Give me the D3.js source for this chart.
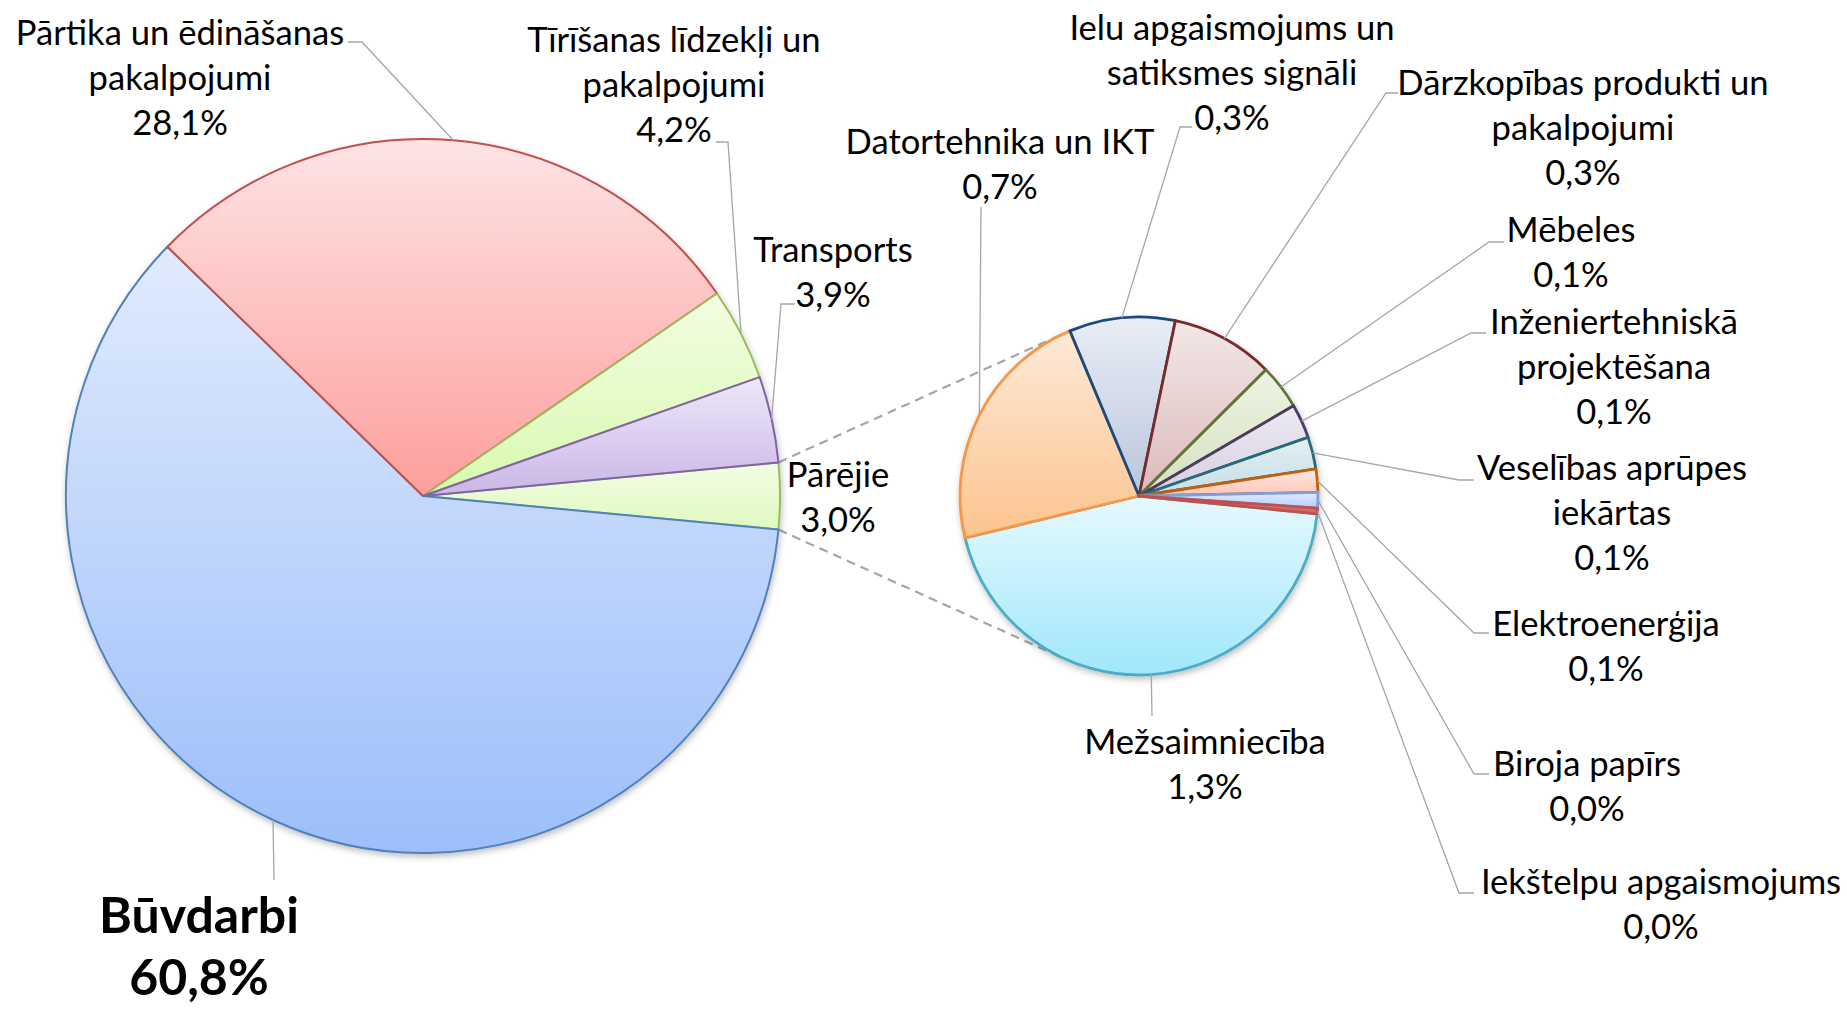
<!DOCTYPE html>
<html>
<head>
<meta charset="utf-8">
<script src="https://cdn.jsdelivr.net/npm/d3@7/dist/d3.min.js"></script>
<style>
  body { margin: 0; background: #fff; }
  text { font-family: Lato, "Open Sans", sans-serif; fill: #000; }
</style>
</head>
<body>
<svg id="chart"></svg>
<script>
// main pie: the "other" slice is built from the small pie
const mainCategories = ["Būvdarbi", "Pārtika un ēdināšanas pakalpojumi", "Tīrīšanas līdzekļi un pakalpojumi", "Transports"];
const mainValues = [60.8, 28.1, 4.2, 3.9];
const otherName = "Pārējie";

// small pie (breakdown of "Pārējie")
const otherCategories = ["Mežsaimniecība", "Datortehnika un IKT", "Ielu apgaismojums un satiksmes signāli",
  "Dārzkopības produkti un pakalpojumi", "Mēbeles", "Inženiertehniskā projektēšana",
  "Veselības aprūpes iekārtas", "Elektroenerģija", "Biroja papīrs", "Iekštelpu apgaismojums"];
const otherValues = [1.34, 0.674, 0.287, 0.279, 0.121, 0.093, 0.087, 0.063, 0.042, 0.015];

var width = 1847, height = 1010;
var fs = 34.6, lh = 45;

var svg = d3.select('#chart')
  .attr('width', width)
  .attr('height', height);

var defs = svg.append('defs');
defs.append('filter').attr('id', 'shadow')
  .attr('x', '-10%').attr('y', '-10%').attr('width', '130%').attr('height', '130%')
  .append('feDropShadow')
  .attr('dx', 1).attr('dy', 3).attr('stdDeviation', 3)
  .attr('flood-color', '#000').attr('flood-opacity', 0.25);

// stroke, gradient top, gradient bottom
var mainStyle = {
  "Pārējie": ['#9bbb59', '#f3fde4', '#dffac0'],
  "Būvdarbi": ['#4f81bd', '#e1ebfd', '#9cbefa'],
  "Pārtika un ēdināšanas pakalpojumi": ['#c0504d', '#fde4e4', '#fd9f9d'],
  "Tīrīšanas līdzekļi un pakalpojumi": ['#9bbb59', '#f3fde2', '#d8f9b0'],
  "Transports": ['#8064a2', '#eee8f8', '#c9b6e6']
};
var otherStyle = [
  ['#4bacc6', '#e6f9fe', '#a0e7fc'],
  ['#f79646', '#fee9d8', '#fcc48e'],
  ['#1f497d', '#e9edf5', '#bac6dd'],
  ['#772c2a', '#f3e7e7', '#dbbaba'],
  ['#5f7530', '#eef3e4', '#d4e1c0'],
  ['#4d3b62', '#eeebf2', '#d5cee1'],
  ['#276a7c', '#e4f0f3', '#c4dee5'],
  ['#c0600a', '#ffe8e2', '#ffc6b8'],
  ['#7ba0d8', '#e0ebff', '#b6cefc'],
  ['#c0504d', '#d07c7a', '#c86a68']
];

// label positions (centre x, first line y), word count of first line, leader start points
var labelLayout = {
  "Būvdarbi": {x: 199, y: 915, bold: true, leader: [[274, 880]]},
  "Pārtika un ēdināšanas pakalpojumi": {x: 180, y: 33, wrap: 3, leader: [[348, 42], [362, 42]]},
  "Tīrīšanas līdzekļi un pakalpojumi": {x: 674, y: 40, wrap: 3, leader: [[716, 142], [728, 142]]},
  "Transports": {x: 833, y: 250, leader: [[795, 304], [781, 304]]},
  "Pārējie": {x: 838, y: 475},
  "Mežsaimniecība": {x: 1205, y: 742, leader: [[1152, 716]]},
  "Datortehnika un IKT": {x: 1000, y: 142, leader: [[981, 207]]},
  "Ielu apgaismojums un satiksmes signāli": {x: 1232, y: 28, wrap: 3, leader: [[1192, 127], [1180, 127]]},
  "Dārzkopības produkti un pakalpojumi": {x: 1583, y: 83, wrap: 3, leader: [[1398, 93], [1386, 93]]},
  "Mēbeles": {x: 1571, y: 230, leader: [[1504, 242], [1489, 242]]},
  "Inženiertehniskā projektēšana": {x: 1614, y: 322, wrap: 1, leader: [[1486, 333], [1471, 333]]},
  "Veselības aprūpes iekārtas": {x: 1612, y: 468, wrap: 2, leader: [[1474, 480], [1459, 480]]},
  "Elektroenerģija": {x: 1606, y: 624, leader: [[1489, 633], [1474, 633]]},
  "Biroja papīrs": {x: 1587, y: 764, leader: [[1489, 774], [1474, 774]]},
  "Iekštelpu apgaismojums": {x: 1661, y: 882, leader: [[1474, 893], [1459, 893]]}
};

var pct = v => d3.format('.1f')(v).replace('.', ',') + '%';

var otherTotal = d3.sum(otherValues);
var mainData = [{name: otherName, value: otherTotal}]
  .concat(mainCategories.map((c, i) => ({name: c, value: mainValues[i]})));
var otherData = otherCategories.map((c, i) => ({name: c, value: otherValues[i]}));

var main = {cx: 423, cy: 496, r: 357};
var small = {cx: 1139, cy: 496, r: 179};

// "other" slice centred on 3 o'clock
var mainStart = Math.PI / 2 - otherTotal / d3.sum(mainData, d => d.value) * Math.PI;
var mainPie = d3.pie().sort(null).value(d => d.value)
  .startAngle(mainStart).endAngle(mainStart + 2 * Math.PI);
var smallStart = 95.7 * Math.PI / 180;
var smallPie = d3.pie().sort(null).value(d => d.value)
  .startAngle(smallStart).endAngle(smallStart + 2 * Math.PI);

var mainArcs = mainPie(mainData);
var smallArcs = smallPie(otherData);

function onArc(p, a, rr) {
  return [p.cx + (rr || p.r) * Math.sin(a), p.cy - (rr || p.r) * Math.cos(a)];
}

// dashed connectors, tangent to the small pie
var oth = mainArcs[0];
var corners = [onArc(main, oth.startAngle), onArc(main, oth.endAngle)];
var connectors = svg.append('g');
corners.forEach(function(P, k) {
  var dx = P[0] - small.cx, dy = P[1] - small.cy;
  var d = Math.sqrt(dx * dx + dy * dy);
  var phi = Math.atan2(dy, dx), al = Math.acos(small.r / d);
  var t = [phi + al, phi - al].map(a => [small.cx + small.r * Math.cos(a), small.cy + small.r * Math.sin(a)]);
  t.sort((a, b) => a[1] - b[1]);
  var T = k === 0 ? t[0] : t[1];
  connectors.append('line')
    .attr('x1', P[0]).attr('y1', P[1]).attr('x2', T[0]).attr('y2', T[1])
    .attr('stroke', '#a6a6a6').attr('stroke-width', 2.2)
    .attr('stroke-dasharray', '9,6');
});

function drawPie(p, arcs, styleOf, sw, key) {
  var arc = d3.arc().innerRadius(0).outerRadius(p.r);
  arcs.forEach(function(d, i) {
    var st = styleOf(d, i);
    var g = defs.append('linearGradient').attr('id', key + i)
      .attr('x1', 0).attr('y1', 0).attr('x2', 0).attr('y2', 1);
    g.append('stop').attr('offset', 0).attr('stop-color', st[1]);
    g.append('stop').attr('offset', 1).attr('stop-color', st[2]);
  });
  svg.append('g')
    .attr('transform', `translate(${p.cx},${p.cy})`)
    .attr('filter', 'url(#shadow)')
    .selectAll('path')
    .data(arcs)
    .enter().append('path')
    .attr('d', arc)
    .attr('fill', (d, i) => `url(#${key}${i})`)
    .attr('stroke', (d, i) => styleOf(d, i)[0])
    .attr('stroke-width', sw)
    .attr('stroke-linejoin', 'round');
}

drawPie(main, mainArcs, d => mainStyle[d.data.name], 2, 'gm');
drawPie(small, smallArcs, (d, i) => otherStyle[i], 2.8, 'gs');

// labels and leader lines
var leaders = svg.append('g');
var labels = svg.append('g');
var line = d3.line();

function drawLabel(p, d) {
  var lay = labelLayout[d.data.name];
  var words = d.data.name.split(' ');
  var rows = lay.wrap ? [words.slice(0, lay.wrap).join(' '), words.slice(lay.wrap).join(' ')] : [d.data.name];
  rows.push(pct(d.data.value));
  var size = lay.bold ? 50 : fs, step = lay.bold ? 62 : lh;
  var t = labels.append('text')
    .attr('text-anchor', 'middle')
    .style('font-size', size + 'px')
    .style('font-weight', lay.bold ? 700 : 400);
  rows.forEach(function(r, i) {
    t.append('tspan').attr('x', lay.x).attr('y', lay.y + i * step + size * 0.35).text(r);
  });
  if (lay.leader) {
    var mid = (d.startAngle + d.endAngle) / 2;
    var pts = lay.leader.concat([onArc(p, mid)]);
    leaders.append('path')
      .attr('d', line(pts))
      .attr('fill', 'none')
      .attr('stroke', '#a6a6a6')
      .attr('stroke-width', 1.3);
  }
}

mainArcs.forEach(d => drawLabel(main, d));
smallArcs.forEach(d => drawLabel(small, d));
</script>
</body>
</html>
